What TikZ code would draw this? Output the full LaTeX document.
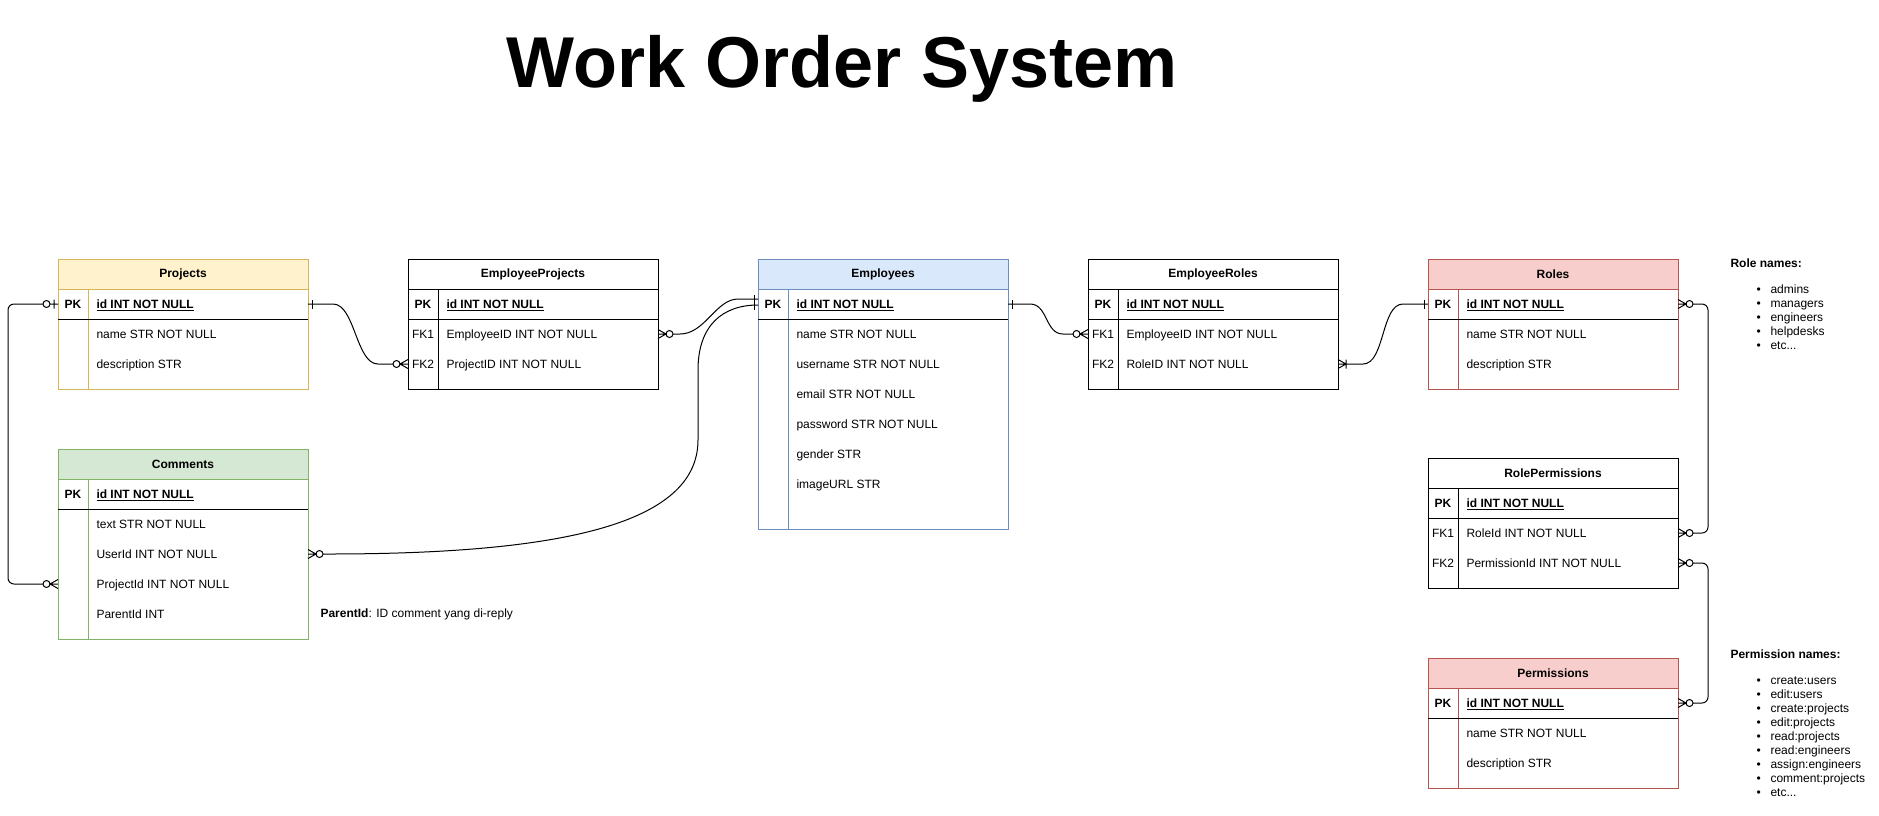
\documentclass[tikz,border=0pt]{standalone}
\usepackage{fontspec}
\setmainfont{Liberation Sans}
\usepackage{tikz}
\usetikzlibrary{arrows.meta,positioning,calc}
\definecolor{yellowfill}{HTML}{FFF2CC}
\definecolor{yellowline}{HTML}{D6B656}
\definecolor{greenfill}{HTML}{D5E8D4}
\definecolor{greenline}{HTML}{82B366}
\definecolor{bluefill}{HTML}{DAE8FC}
\definecolor{blueline}{HTML}{6C8EBF}
\definecolor{redfill}{HTML}{F8CECC}
\definecolor{redline}{HTML}{B85450}

% ER ends (crow's foot notation)
\pgfdeclarearrow{
  name = erZeroMany,
  parameters = {\the\pgfarrowlinewidth},
  setup code = {
    \pgfarrowssettipend{0pt}
    \pgfarrowssetlineend{-15pt}
    \pgfarrowssetbackend{-15.5pt}
    \pgfarrowshullpoint{0pt}{4.5pt}
    \pgfarrowshullpoint{0pt}{-4.5pt}
    \pgfarrowshullpoint{-15.5pt}{0pt}
  },
  drawing code = {
    \pgfsetdash{}{0pt}
    \pgfpathmoveto{\pgfqpoint{0pt}{4.5pt}}
    \pgfpathlineto{\pgfqpoint{-8pt}{0pt}}
    \pgfpathlineto{\pgfqpoint{0pt}{-4.5pt}}
    \pgfpathmoveto{\pgfqpoint{0pt}{0pt}}
    \pgfpathlineto{\pgfqpoint{-8pt}{0pt}}
    \pgfpathcircle{\pgfqpoint{-11.5pt}{0pt}}{3.5pt}
    \pgfusepathqstroke
  },
  defaults = {}
}
\pgfdeclarearrow{
  name = erZeroOne,
  parameters = {\the\pgfarrowlinewidth},
  setup code = {
    \pgfarrowssettipend{0pt}
    \pgfarrowssetlineend{-15pt}
    \pgfarrowssetbackend{-15.5pt}
    \pgfarrowshullpoint{0pt}{4.5pt}
    \pgfarrowshullpoint{0pt}{-4.5pt}
    \pgfarrowshullpoint{-15.5pt}{0pt}
  },
  drawing code = {
    \pgfsetdash{}{0pt}
    \pgfpathmoveto{\pgfqpoint{0pt}{0pt}}
    \pgfpathlineto{\pgfqpoint{-8pt}{0pt}}
    \pgfpathmoveto{\pgfqpoint{-4pt}{4.5pt}}
    \pgfpathlineto{\pgfqpoint{-4pt}{-4.5pt}}
    \pgfpathcircle{\pgfqpoint{-11.5pt}{0pt}}{3.5pt}
    \pgfusepathqstroke
  },
  defaults = {}
}
\pgfdeclarearrow{
  name = erOne,
  parameters = {\the\pgfarrowlinewidth},
  setup code = {
    \pgfarrowssettipend{0pt}
    \pgfarrowssetlineend{0pt}
    \pgfarrowssetbackend{-4.5pt}
    \pgfarrowshullpoint{0pt}{4.5pt}
    \pgfarrowshullpoint{0pt}{-4.5pt}
    \pgfarrowshullpoint{-4.5pt}{0pt}
  },
  drawing code = {
    \pgfsetdash{}{0pt}
    \pgfpathmoveto{\pgfqpoint{-4pt}{4.5pt}}
    \pgfpathlineto{\pgfqpoint{-4pt}{-4.5pt}}
    \pgfusepathqstroke
  },
  defaults = {}
}
\pgfdeclarearrow{
  name = erOneMany,
  parameters = {\the\pgfarrowlinewidth},
  setup code = {
    \pgfarrowssettipend{0pt}
    \pgfarrowssetlineend{-8pt}
    \pgfarrowssetbackend{-8.5pt}
    \pgfarrowshullpoint{0pt}{4.5pt}
    \pgfarrowshullpoint{0pt}{-4.5pt}
    \pgfarrowshullpoint{-8.5pt}{4.5pt}
    \pgfarrowshullpoint{-8.5pt}{-4.5pt}
  },
  drawing code = {
    \pgfsetdash{}{0pt}
    \pgfpathmoveto{\pgfqpoint{0pt}{4.5pt}}
    \pgfpathlineto{\pgfqpoint{-8pt}{0pt}}
    \pgfpathlineto{\pgfqpoint{0pt}{-4.5pt}}
    \pgfpathmoveto{\pgfqpoint{0pt}{0pt}}
    \pgfpathlineto{\pgfqpoint{-8pt}{0pt}}
    \pgfpathmoveto{\pgfqpoint{-8pt}{4.5pt}}
    \pgfpathlineto{\pgfqpoint{-8pt}{-4.5pt}}
    \pgfusepathqstroke
  },
  defaults = {}
}

\newcommand{\listdot}{\makebox[14pt][l]{\textbullet}}

\tikzset{
  entity/.style={draw, fill=white, anchor=north west, minimum width=250pt, inner sep=0pt, outer sep=0pt},
  entityhead/.style={draw, anchor=north, minimum width=250pt, minimum height=30pt, inner sep=0pt, outer sep=0pt, font=\bfseries},
  keycell/.style={inner sep=0pt, text height=8.6pt, text depth=0pt},
  field/.style={anchor=west, inner sep=0pt, text height=8.6pt, text depth=0pt},
  note/.style={anchor=base west, inner sep=0pt}
}

\begin{document}
\fontsize{12}{14}\selectfont
\begin{tikzpicture}[x=1pt, y=-1pt, line width=1pt]
    \useasboundingbox (0,0) rectangle (1879,815);

    % Title
    \node[font=\fontsize{72}{80}\selectfont\bfseries, anchor=base, inner sep=0pt] (title) at (842,87) {Work Order System};

    % Projects
    \node[entity, draw=yellowline, minimum height=130pt] (proj) at (58,259) {};
    \node[entityhead, draw=yellowline, fill=yellowfill] (proj-hd) at (proj.north) {Projects};
    \node[field, font=\bfseries] (proj-pk) at ($(proj-hd.south west)+(38,15)$) {\underline{id INT NOT NULL}};
    \node[field] (proj-name) at ($(proj-pk.west)+(0,30)$) {name STR NOT NULL};
    \node[field] (proj-desc) at ($(proj-name.west)+(0,30)$) {description STR};
    \node[keycell, font=\bfseries] at ($(proj-pk.west)+(-23,0)$) {PK};
    \draw[yellowline] ($(proj-hd.south west)+(30,0)$) -- ($(proj.south west)+(30,0)$);
    \draw ($(proj-hd.south west)+(0,30)$) -- ($(proj-hd.south east)+(0,30)$);

    % EmployeeProjects
    \node[entity, minimum height=130pt] (ep) at (408,259) {};
    \node[entityhead] (ep-hd) at (ep.north) {EmployeeProjects};
    \node[field, font=\bfseries] (ep-pk) at ($(ep-hd.south west)+(38,15)$) {\underline{id INT NOT NULL}};
    \node[field] (ep-eid) at ($(ep-pk.west)+(0,30)$) {EmployeeID INT NOT NULL};
    \node[field] (ep-pid) at ($(ep-eid.west)+(0,30)$) {ProjectID INT NOT NULL};
    \node[keycell, font=\bfseries] at ($(ep-pk.west)+(-23,0)$) {PK};
    \node[keycell] at ($(ep-eid.west)+(-23,0)$) {FK1};
    \node[keycell] at ($(ep-pid.west)+(-23,0)$) {FK2};
    \draw ($(ep-hd.south west)+(30,0)$) -- ($(ep.south west)+(30,0)$);
    \draw ($(ep-hd.south west)+(0,30)$) -- ($(ep-hd.south east)+(0,30)$);

    % Employees
    \node[entity, draw=blueline, minimum height=270pt] (emp) at (758,259) {};
    \node[entityhead, draw=blueline, fill=bluefill] (emp-hd) at (emp.north) {Employees};
    \node[field, font=\bfseries] (emp-pk) at ($(emp-hd.south west)+(38,15)$) {\underline{id INT NOT NULL}};
    \node[field] (emp-name) at ($(emp-pk.west)+(0,30)$) {name STR NOT NULL};
    \node[field] (emp-user) at ($(emp-name.west)+(0,30)$) {username STR NOT NULL};
    \node[field] (emp-mail) at ($(emp-user.west)+(0,30)$) {email STR NOT NULL};
    \node[field] (emp-pass) at ($(emp-mail.west)+(0,30)$) {password STR NOT NULL};
    \node[field] (emp-gen) at ($(emp-pass.west)+(0,30)$) {gender STR};
    \node[field] (emp-img) at ($(emp-gen.west)+(0,30)$) {imageURL STR};
    \node[keycell, font=\bfseries] at ($(emp-pk.west)+(-23,0)$) {PK};
    \draw[blueline] ($(emp-hd.south west)+(30,0)$) -- ($(emp.south west)+(30,0)$);
    \draw ($(emp-hd.south west)+(0,30)$) -- ($(emp-hd.south east)+(0,30)$);

    % EmployeeRoles
    \node[entity, minimum height=130pt] (er) at (1088,259) {};
    \node[entityhead] (er-hd) at (er.north) {EmployeeRoles};
    \node[field, font=\bfseries] (er-pk) at ($(er-hd.south west)+(38,15)$) {\underline{id INT NOT NULL}};
    \node[field] (er-eid) at ($(er-pk.west)+(0,30)$) {EmployeeID INT NOT NULL};
    \node[field] (er-rid) at ($(er-eid.west)+(0,30)$) {RoleID INT NOT NULL};
    \node[keycell, font=\bfseries] at ($(er-pk.west)+(-23,0)$) {PK};
    \node[keycell] at ($(er-eid.west)+(-23,0)$) {FK1};
    \node[keycell] at ($(er-rid.west)+(-23,0)$) {FK2};
    \draw ($(er-hd.south west)+(30,0)$) -- ($(er.south west)+(30,0)$);
    \draw ($(er-hd.south west)+(0,30)$) -- ($(er-hd.south east)+(0,30)$);

    % Roles
    \node[entity, draw=redline, minimum height=130pt] (role) at (1428,259) {};
    \node[entityhead, draw=redline, fill=redfill] (role-hd) at (role.north) {Roles};
    \node[field, font=\bfseries] (role-pk) at ($(role-hd.south west)+(38,15)$) {\underline{id INT NOT NULL}};
    \node[field] (role-name) at ($(role-pk.west)+(0,30)$) {name STR NOT NULL};
    \node[field] (role-desc) at ($(role-name.west)+(0,30)$) {description STR};
    \node[keycell, font=\bfseries] at ($(role-pk.west)+(-23,0)$) {PK};
    \draw[redline] ($(role-hd.south west)+(30,0)$) -- ($(role.south west)+(30,0)$);
    \draw ($(role-hd.south west)+(0,30)$) -- ($(role-hd.south east)+(0,30)$);

    % Comments
    \node[entity, draw=greenline, minimum height=190pt] (cmt) at (58,449) {};
    \node[entityhead, draw=greenline, fill=greenfill] (cmt-hd) at (cmt.north) {Comments};
    \node[field, font=\bfseries] (cmt-pk) at ($(cmt-hd.south west)+(38,15)$) {\underline{id INT NOT NULL}};
    \node[field] (cmt-text) at ($(cmt-pk.west)+(0,30)$) {text STR NOT NULL};
    \node[field] (cmt-uid) at ($(cmt-text.west)+(0,30)$) {UserId INT NOT NULL};
    \node[field] (cmt-pid) at ($(cmt-uid.west)+(0,30)$) {ProjectId INT NOT NULL};
    \node[field] (cmt-par) at ($(cmt-pid.west)+(0,30)$) {ParentId INT};
    \node[keycell, font=\bfseries] at ($(cmt-pk.west)+(-23,0)$) {PK};
    \draw[greenline] ($(cmt-hd.south west)+(30,0)$) -- ($(cmt.south west)+(30,0)$);
    \draw ($(cmt-hd.south west)+(0,30)$) -- ($(cmt-hd.south east)+(0,30)$);

    % RolePermissions
    \node[entity, minimum height=130pt] (rp) at (1428,458) {};
    \node[entityhead] (rp-hd) at (rp.north) {RolePermissions};
    \node[field, font=\bfseries] (rp-pk) at ($(rp-hd.south west)+(38,15)$) {\underline{id INT NOT NULL}};
    \node[field] (rp-rid) at ($(rp-pk.west)+(0,30)$) {RoleId INT NOT NULL};
    \node[field] (rp-pid) at ($(rp-rid.west)+(0,30)$) {PermissionId INT NOT NULL};
    \node[keycell, font=\bfseries] at ($(rp-pk.west)+(-23,0)$) {PK};
    \node[keycell] at ($(rp-rid.west)+(-23,0)$) {FK1};
    \node[keycell] at ($(rp-pid.west)+(-23,0)$) {FK2};
    \draw ($(rp-hd.south west)+(30,0)$) -- ($(rp.south west)+(30,0)$);
    \draw ($(rp-hd.south west)+(0,30)$) -- ($(rp-hd.south east)+(0,30)$);

    % Permissions
    \node[entity, draw=redline, minimum height=130pt] (perm) at (1428,658) {};
    \node[entityhead, draw=redline, fill=redfill] (perm-hd) at (perm.north) {Permissions};
    \node[field, font=\bfseries] (perm-pk) at ($(perm-hd.south west)+(38,15)$) {\underline{id INT NOT NULL}};
    \node[field] (perm-name) at ($(perm-pk.west)+(0,30)$) {name STR NOT NULL};
    \node[field] (perm-desc) at ($(perm-name.west)+(0,30)$) {description STR};
    \node[keycell, font=\bfseries] at ($(perm-pk.west)+(-23,0)$) {PK};
    \draw[redline] ($(perm-hd.south west)+(30,0)$) -- ($(perm.south west)+(30,0)$);
    \draw ($(perm-hd.south west)+(0,30)$) -- ($(perm-hd.south east)+(0,30)$);

    % Notes
    \node[note] (parentnote) at (320,617) {\textbf{ParentId}: ID comment yang di-reply};
    \node[note, font=\bfseries] (rolenames) at (1730,267) {Role names:};
    \node[anchor=north west, inner sep=0pt, align=left] (rolelist) at (1756,283.5)
        {\strut\listdot admins\\\listdot managers\\\listdot engineers\\\listdot helpdesks\\\listdot etc...};
    \node[note, font=\bfseries] (permnames) at (1730,658) {Permission names:};
    \node[anchor=north west, inner sep=0pt, align=left] (permlist) at (1756,674.5)
        {\strut\listdot create:users\\\listdot edit:users\\\listdot create:projects\\\listdot edit:projects\\\listdot read:projects\\\listdot read:engineers\\\listdot assign:engineers\\\listdot comment:projects\\\listdot etc...};

    % Connections
    \draw[erOne-erZeroMany] (proj.east |- proj-pk) -- ++(25,0)
        .. controls +(22,0) and +(-22,0) .. ($(ep.west |- ep-pid)+(-30,0)$) -- (ep.west |- ep-pid);
    \draw[erZeroMany-erOne] (ep.east |- ep-eid) -- ++(22,0)
        .. controls +(25,0) and +(-22,0) .. ($(emp.west |- emp-pk)+(-20,-5)$) -- ($(emp.west |- emp-pk)+(0,-5)$);
    \draw[erZeroMany-erOne] (cmt.east |- cmt-uid) -- ++(20,0)
        .. controls +(230,0) and +(0,85) .. ++(370,-114) -- ++(0,-70)
        .. controls +(0,-45) and +(-35,0) .. ($(emp.west |- emp-pk)+(0,1)$);
    \draw[erOne-erZeroMany] (emp.east |- emp-pk) -- ++(22,0)
        .. controls +(18,0) and +(-18,0) .. ($(er.west |- er-eid)+(-25,0)$) -- (er.west |- er-eid);
    \draw[erOneMany-erOne] (er.east |- er-rid) -- ++(25,0)
        .. controls +(22,0) and +(-22,0) .. ($(role.west |- role-pk)+(-25,0)$) -- (role.west |- role-pk);
    \draw[erZeroMany-erZeroMany, rounded corners=6pt] (role.east |- role-pk) -- ++(30,0) |- (rp.east |- rp-rid);
    \draw[erZeroMany-erZeroMany, rounded corners=6pt] (rp.east |- rp-pid) -- ++(30,0) |- (perm.east |- perm-pk);
    \draw[erZeroOne-erZeroMany, rounded corners=6pt] (proj.west |- proj-pk) -- ++(-50,0) |- (cmt.west |- cmt-pid);
\end{tikzpicture}
\end{document}
